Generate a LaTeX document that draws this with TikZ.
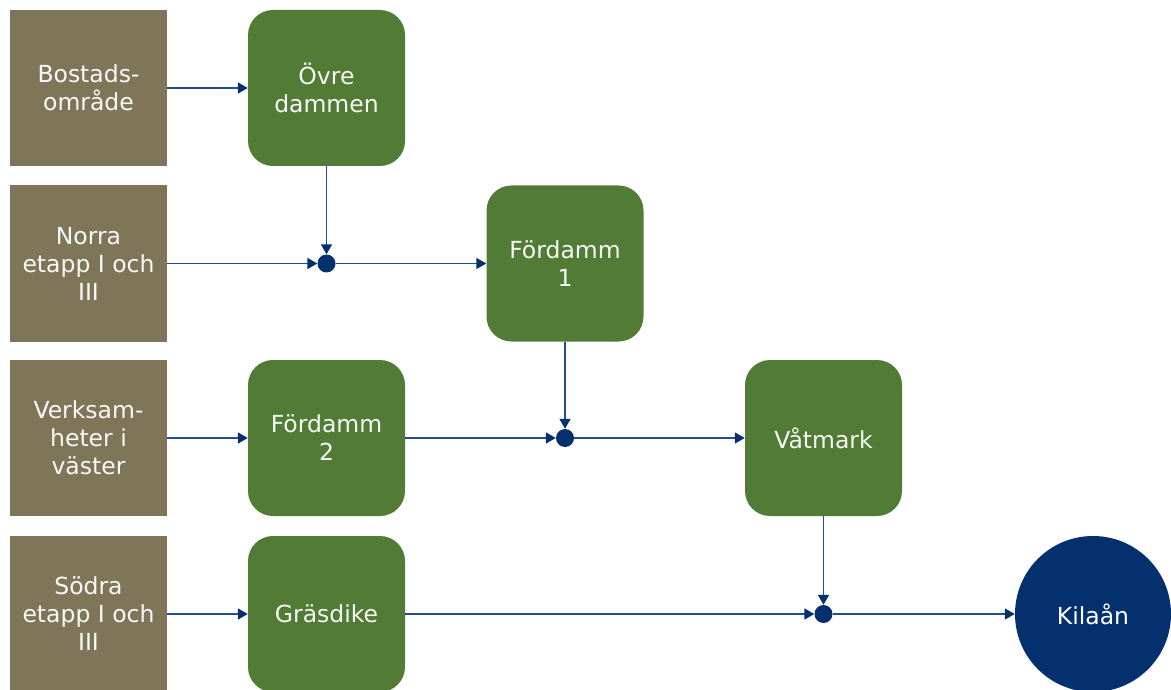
\documentclass[tikz,border=0pt]{standalone}
\usepackage{fontspec}
\setmainfont{DejaVu Sans}
\usetikzlibrary{arrows.meta}
\definecolor{srcbrown}{RGB}{127,118,90}
\definecolor{pondgreen}{RGB}{82,123,53}
\definecolor{rivernavy}{RGB}{5,48,110}
\definecolor{flowblue}{RGB}{38,78,142}

\begin{document}
\begin{tikzpicture}[x=1pt,y=-1pt,
 src/.style={rectangle,fill=srcbrown,minimum width=157pt,minimum height=156pt,inner sep=0pt,
   text=white!95!srcbrown,align=center,font=\fontsize{23.5}{28}\selectfont},
 pond/.style={src,fill=pondgreen,rounded corners=25pt,text=white!95!pondgreen},
 river/.style={circle,fill=rivernavy,minimum size=156pt,inner sep=0pt,text=white,
   font=\fontsize{23.5}{28}\selectfont},
 junct/.style={circle,fill=rivernavy,minimum size=18pt,inner sep=0pt},
 flow/.style={draw=flowblue,line width=1.7pt,-{Triangle[length=10pt,width=11pt,color=rivernavy]}}]
  \fill[white] (0,0) rectangle (1171,690);
  \useasboundingbox (0,0) rectangle (1171,690);
%sources
  \node[src] (bostad) at (88.5,88) {Bostads-\\område};
  \node[src] (norra) at (88.5,263.5) {Norra\\etapp I och\\III};
  \node[src] (verks) at (88.5,438) {Verksam-\\heter i\\väster};
  \node[src] (sodra) at (88.5,614) {Södra\\etapp I och\\III};
%ponds
  \node[pond] (ovre) at (326.5,88) {Övre\\dammen};
  \node[pond] (ford1) at (565,263.5) {Fördamm\\1};
  \node[pond] (ford2) at (326.5,438) {Fördamm\\2};
  \node[pond] (vatmark) at (823.5,438) {Våtmark};
  \node[pond] (gras) at (326.5,614) {Gräsdike};
%recipient
  \node[river] (kilaan) at (1093,614) {Kilaån};
%junctions
  \node[junct] (j1) at (ovre |- norra) {};
  \node[junct] (j2) at (ford1 |- ford2) {};
  \node[junct] (j3) at (vatmark |- gras) {};
%paths
  \path[flow]
    (bostad) edge (ovre)
    (ovre) edge (j1)
    (norra) edge (j1)
    (j1) edge (ford1)
    (ford1) edge (j2)
    (verks) edge (ford2)
    (ford2) edge (j2)
    (j2) edge (vatmark)
    (vatmark) edge (j3)
    (sodra) edge (gras)
    (gras) edge (j3)
    (j3) edge (kilaan);
\end{tikzpicture}
\end{document}
